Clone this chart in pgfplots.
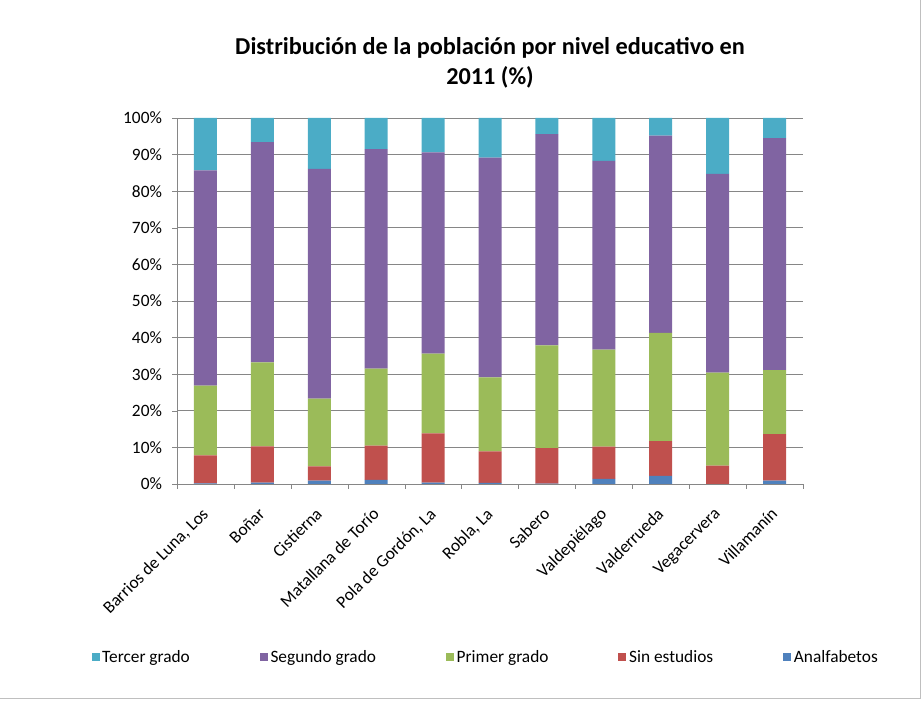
\documentclass[border=0pt]{standalone}
\usepackage{pgfplots}
\pgfplotsset{compat=1.18}
\usepackage{fontspec}
\setmainfont{Carlito}
\definecolor{cT}{HTML}{4BACC6}
\definecolor{cS}{HTML}{8064A2}
\definecolor{cP}{HTML}{9BBB59}
\definecolor{cN}{HTML}{C0504D}
\definecolor{cA}{HTML}{4F81BD}
\definecolor{gridc}{HTML}{868686}
\begin{document}
\begin{tikzpicture}
\path[use as bounding box] (0pt,0pt) rectangle (690.75pt,525pt);
\draw[gray!50] (690pt,525pt) -- (690pt,1.5pt) -- (0pt,1.5pt);
\node[font=\bfseries\fontsize{18.2}{22.5}\selectfont, align=center] at (367.5pt,477.75pt)
  {Distribución de la población por nivel educativo en\\2011 (\%)};
\begin{axis}[
  at={(132.75pt,162pt)}, anchor=south west,
  scale only axis, width=469.5pt, height=274.5pt,
  ybar stacked, bar width=17.25pt,
  xmin=-0.5, xmax=10.5, ymin=0, ymax=100,
  axis x line*=bottom, axis y line*=left,
  axis line style={gridc},
  ymajorgrids, grid style={gridc, line width=0.6pt},
  ytick={0,10,...,100},
  yticklabels={0\%,10\%,20\%,30\%,40\%,50\%,60\%,70\%,80\%,90\%,100\%},
  xtick={0,...,10},
  xticklabels={Barrios de Luna{,} Los,Boñar,Cistierna,Matallana de Torío,Pola de Gordón{,} La,Robla{,} La,Sabero,Valdepiélago,Valderrueda,Vegacervera,Villamanín},
  minor xtick={-0.5,0.5,...,10.5},
  tick align=outside,
  x tick style={draw=none},
  minor x tick style={draw=gridc},
  y tick style={draw=gridc},
  major tick length=3.75pt, minor tick length=3.75pt,
  tick label style={font=\fontsize{13}{15}\selectfont},
  xticklabel style={xshift=-3.5pt, yshift=-13pt, rotate=45, anchor=north east, inner sep=0pt},
  yticklabel style={xshift=-4pt},
  reverse legend,
  legend columns=5,
  legend style={at={(0.4936,-0.4727)}, anchor=center, draw=none,
    font=\fontsize{13}{15}\selectfont,
    /tikz/every even column/.append style={column sep=50.5pt}},
  legend image code/.code={\fill[#1] (0pt,-3pt) rectangle (6pt,3pt);},
  every axis plot/.append style={draw=none},
]
\addplot[fill=cA] coordinates {(0,0.2) (1,0.4) (2,0.9) (3,1.1) (4,0.4) (5,0.3) (6,0.1) (7,1.4) (8,2.2) (9,0.0) (10,0.9)};
\addplot[fill=cN] coordinates {(0,7.6) (1,9.9) (2,3.9) (3,9.4) (4,13.4) (5,8.6) (6,9.7) (7,8.8) (8,9.5) (9,5.0) (10,12.7)};
\addplot[fill=cP] coordinates {(0,19.1) (1,22.9) (2,18.5) (3,21.0) (4,21.8) (5,20.2) (6,28.1) (7,26.5) (8,29.6) (9,25.4) (10,17.5)};
\addplot[fill=cS] coordinates {(0,58.8) (1,60.2) (2,62.8) (3,60.0) (4,55.0) (5,60.1) (6,57.7) (7,51.6) (8,53.9) (9,54.3) (10,63.4)};
\addplot[fill=cT] coordinates {(0,14.3) (1,6.6) (2,13.9) (3,8.5) (4,9.4) (5,10.8) (6,4.4) (7,11.7) (8,4.8) (9,15.3) (10,5.5)};
\legend{Analfabetos,Sin estudios,Primer grado,Segundo grado,Tercer grado}
\end{axis}
\end{tikzpicture}
\end{document}
